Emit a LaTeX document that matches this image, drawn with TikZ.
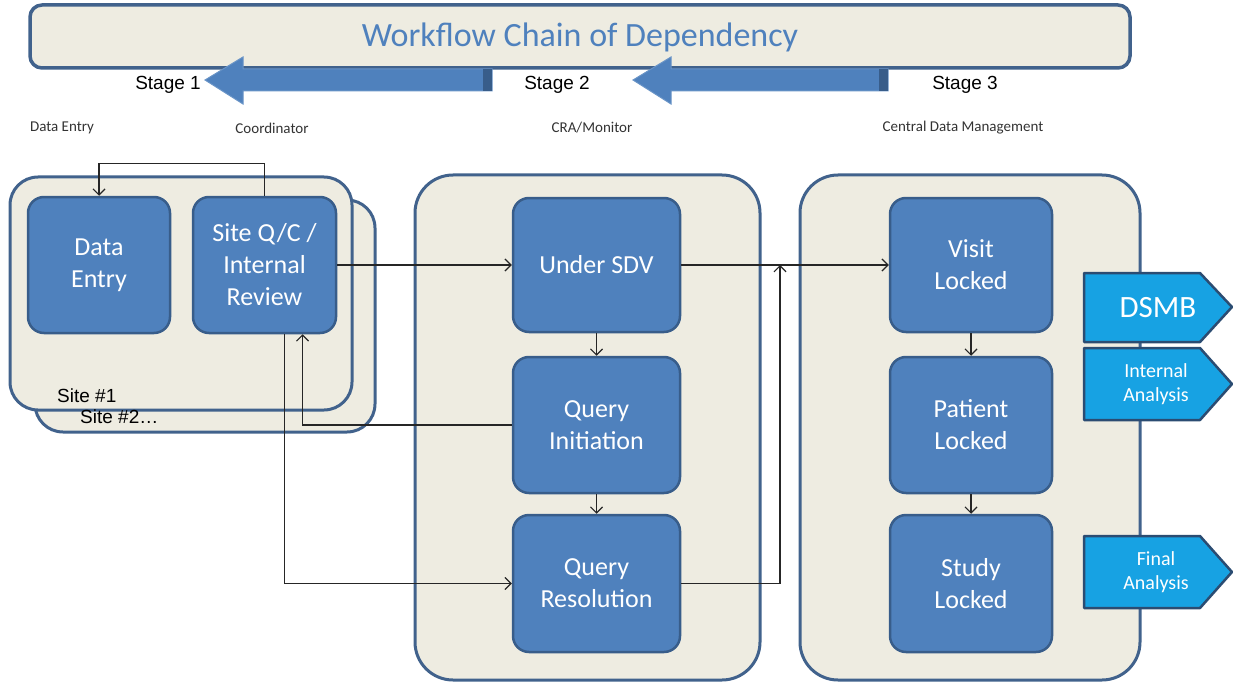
\documentclass[tikz,border=0pt]{standalone}
\usepackage{fontspec}
\usepackage{tikz}
\usetikzlibrary{arrows.meta,positioning}
\newfontfamily\calib{Carlito}
\newfontfamily\arialf{Liberation Sans}
\definecolor{paneFill}{HTML}{EEECE1}
\definecolor{paneLine}{HTML}{41628C}
\definecolor{taskFill}{HTML}{4F81BD}
\definecolor{taskLine}{HTML}{385D8A}
\definecolor{flagFill}{HTML}{17A2E3}
\definecolor{flagLine}{HTML}{2B4C72}
\definecolor{wireGray}{HTML}{262626}

\tikzset{
  pane/.style={draw=paneLine,fill=paneFill,line width=3pt,rounded corners=28pt},
  bigpane/.style={pane,rounded corners=38pt},
  taskbox/.style={draw=taskLine,fill=taskFill,line width=2.5pt,rounded corners=16pt,
    text=white,align=center,inner sep=0pt,font=\calib\fontsize{26}{32}\selectfont},
  flag/.style={draw=flagLine,fill=flagFill,line width=2.5pt,line join=round},
  flagtext/.style={text=white,align=center,inner sep=0pt},
  blockarrow/.style={fill=taskFill,draw=taskFill!85!white,line width=1pt},
  wire/.style={draw=wireGray,line width=1.2pt,-{Straight Barb[length=6pt,width=12pt]}},
  stagelabel/.style={font=\arialf\fontsize{19}{22}\selectfont,inner sep=0pt},
  rolelabel/.style={font=\calib\fontsize{15}{18}\selectfont,text=black!80,inner sep=0pt},
}

\begin{document}
\begin{tikzpicture}[x=1pt,y=-1pt]
  \useasboundingbox (0,0) rectangle (1233,687);

  % title bar and the two big arrows
  \draw[pane,rounded corners=12pt,line width=3.5pt] (30,5) rectangle (1130,68);
  \node[font=\calib\fontsize{34}{40}\selectfont,text=taskFill,inner sep=0pt] (title) at (580,37) {Workflow Chain of Dependency};
  \draw[blockarrow] (205,80) -- (243,57) -- (243,69) -- (492,69) -- (492,91) -- (243,91) -- (243,104) -- cycle;
  \fill[taskLine] (483,69) rectangle (492,91);
  \draw[blockarrow] (633,80) -- (671,57) -- (671,69) -- (888,69) -- (888,91) -- (671,91) -- (671,104) -- cycle;
  \fill[taskLine] (879,69) rectangle (888,91);

  \node[stagelabel] (stageA) at (168,85) {Stage 1};
  \node[stagelabel] (stageB) at (557,85) {Stage 2};
  \node[stagelabel] (stageC) at (965,85) {Stage 3};

  \node[rolelabel] (roleEntry) at (62,128) {Data Entry};
  \node[rolelabel] (roleCoord) at (272,128) {Coordinator};
  \node[rolelabel] (roleCRA) at (592,128) {CRA/Monitor};
  \node[rolelabel] (roleCDM) at (963,128) {Central Data Management};

  % stage panes
  \draw[pane] (35,200) rectangle (375,432);
  \draw[pane] (10,177) rectangle (352,410);
  \draw[bigpane] (415,175) rectangle (760,680);
  \draw[bigpane] (800,175) rectangle (1140,680);
  \node[font=\arialf\fontsize{19}{22}\selectfont,anchor=base west,inner sep=0pt] (siteA) at (57,402) {Site \#1};
  \node[font=\arialf\fontsize{19}{22}\selectfont,anchor=base west,inner sep=0pt] (siteB) at (80,423) {Site \#2\ldots};

  % task boxes
  \node[taskbox,minimum width=142pt,minimum height=136pt] (entry) at (99,265) {Data\\Entry};
  \node[taskbox,minimum width=143pt,minimum height=136pt] (siteqc) at (264.5,265) {Site Q/C /\\Internal\\Review};
  \node[taskbox,minimum width=167pt,minimum height=134pt] (sdv) at (596.5,265) {Under SDV};
  \node[taskbox,minimum width=167pt,minimum height=136pt] (qinit) at (596.5,425) {Query\\Initiation};
  \node[taskbox,minimum width=167pt,minimum height=137pt] (qres) at (596.5,583.5) {Query\\Resolution};
  \node[taskbox,minimum width=162pt,minimum height=134pt] (visit) at (971,265) {Visit\\Locked};
  \node[taskbox,minimum width=162pt,minimum height=136pt] (patient) at (971,425) {Patient\\Locked};
  \node[taskbox,minimum width=162pt,minimum height=137pt] (study) at (971,583.5) {Study\\Locked};

  % output flags
  \draw[flag] (1084,273) -- (1200,273) -- (1232,307) -- (1200,342) -- (1084,342) -- cycle;
  \draw[flag] (1084,348) -- (1200,348) -- (1232,384) -- (1200,420) -- (1084,420) -- cycle;
  \draw[flag] (1084,536) -- (1200,536) -- (1232,572) -- (1200,608) -- (1084,608) -- cycle;
  \node[flagtext,font=\calib\fontsize{31}{36}\selectfont] (dsmb) at (1158,308) {DSMB};
  \node[flagtext,font=\calib\fontsize{20}{24}\selectfont] (interim) at (1156,384) {Internal\\Analysis};
  \node[flagtext,font=\calib\fontsize{20}{24}\selectfont] (final) at (1156,572) {Final\\Analysis};

  % connectors
  \coordinate (merge) at (780,265);
  \draw[wire] (siteqc.north) -- ++(0,-32) -| (entry.north);
  \draw[wire] (siteqc.east) -- (sdv.west);
  \draw[wire] (sdv.east) -- (visit.west);
  \draw[wire] (qres.east) -| (merge);
  \draw[wire] (sdv.south) -- (qinit.north);
  \draw[wire] (qinit.south) -- (qres.north);
  \draw[wire] (qinit.west) -| ([xshift=38pt]siteqc.south);
  \draw[wire] ([xshift=20pt]siteqc.south) |- (qres.west);
  \draw[wire] (visit.south) -- (patient.north);
  \draw[wire] (patient.south) -- (study.north);
\end{tikzpicture}
\end{document}
